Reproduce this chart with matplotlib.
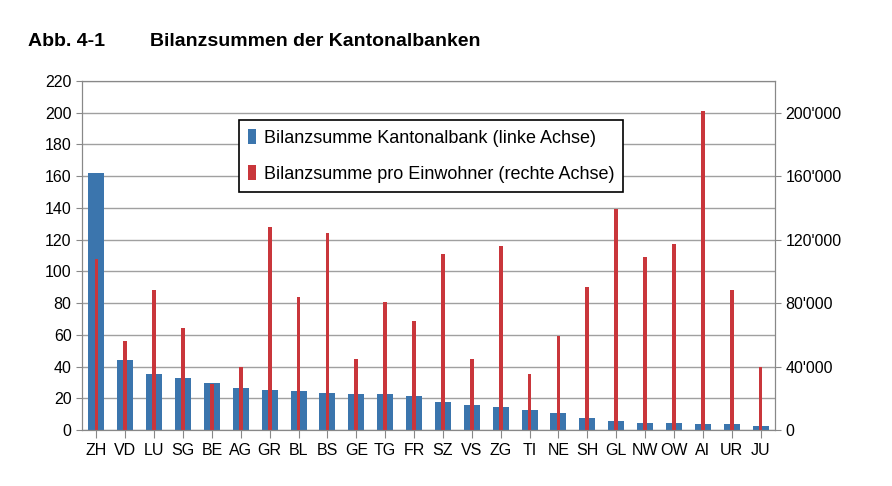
import numpy as np
from matplotlib import pyplot as plt
from matplotlib.ticker import FuncFormatter

plt.rcParams['font.family'] = ['Liberation Sans', 'DejaVu Sans']

# Kantone, Bilanzsumme (Mrd.) und pro Einwohner (CHF)
cantons = ['ZH', 'VD', 'LU', 'SG', 'BE', 'AG', 'GR', 'BL', 'BS', 'GE', 'TG', 'FR',
           'SZ', 'VS', 'ZG', 'TI', 'NE', 'SH', 'GL', 'NW', 'OW', 'AI', 'UR', 'JU']
total = [162, 44, 35, 32.5, 29.5, 26.5, 25.5, 24.5, 23.5, 22.5, 22.5, 21.5,
         17.5, 15.5, 14.5, 12.5, 10.5, 7.5, 5.5, 4.5, 4.5, 3.5, 3.5, 2.5]
per_capita = [108000, 56000, 88000, 64000, 29000, 40000, 128000, 84000, 124000, 45000,
              81000, 69000, 111000, 45000, 116000, 35000, 59000, 90000, 139000, 109000,
              117000, 201000, 88000, 40000]

blue = '#3b75ad'
red = '#c9363b'

fig = plt.figure(figsize=(8.92, 4.86), dpi=100)
ax1 = fig.add_axes([82 / 892, 1 - 430 / 486, 693 / 892, 349 / 486])
x = np.arange(len(cantons))

ax1.set_axisbelow(True)
ax1.yaxis.grid(True, color='#a0a0a0', linewidth=1)
b1 = ax1.bar(x, total, width=0.55, color=blue)
ax1.set_ylim(0, 220)
ax1.set_yticks(range(0, 221, 20))
ax1.set_xlim(-0.5, len(cantons) - 0.5)
ax1.set_xticks(x)
ax1.set_xticklabels(cantons)

ax2 = ax1.twinx()
b2 = ax2.bar(x, per_capita, width=0.13, color=red)
ax2.set_ylim(0, 220000)
ax2.set_yticks(range(0, 200001, 40000))
ax2.yaxis.set_major_formatter(FuncFormatter(lambda v, p: f"{int(v):,}".replace(',', "'")))

for ax in (ax1, ax2):
    for s in ax.spines.values():
        s.set_color('#888888')
    ax.tick_params(labelsize=11.5, color='#888888', length=4)
ax1.tick_params(axis='x', length=6)

leg = ax1.legend([b1, b2], ['Bilanzsumme Kantonalbank (linke Achse)',
                            'Bilanzsumme pro Einwohner (rechte Achse)'],
                 loc='upper left', bbox_to_anchor=(0.214, 0.913), fontsize=13,
                 handlelength=0.45, handleheight=0.9, handletextpad=0.4,
                 fancybox=False, edgecolor='black', framealpha=1, labelspacing=1.0,
                 borderpad=0.5)
leg.get_frame().set_linewidth(1.2)

fig.text(28 / 892, 1 - 42 / 486, 'Abb. 4-1', fontsize=14, fontweight='bold', va='center')
fig.text(150 / 892, 1 - 42 / 486, 'Bilanzsummen der Kantonalbanken', fontsize=14,
         fontweight='bold', va='center')

plt.savefig('out.png', dpi=100)
